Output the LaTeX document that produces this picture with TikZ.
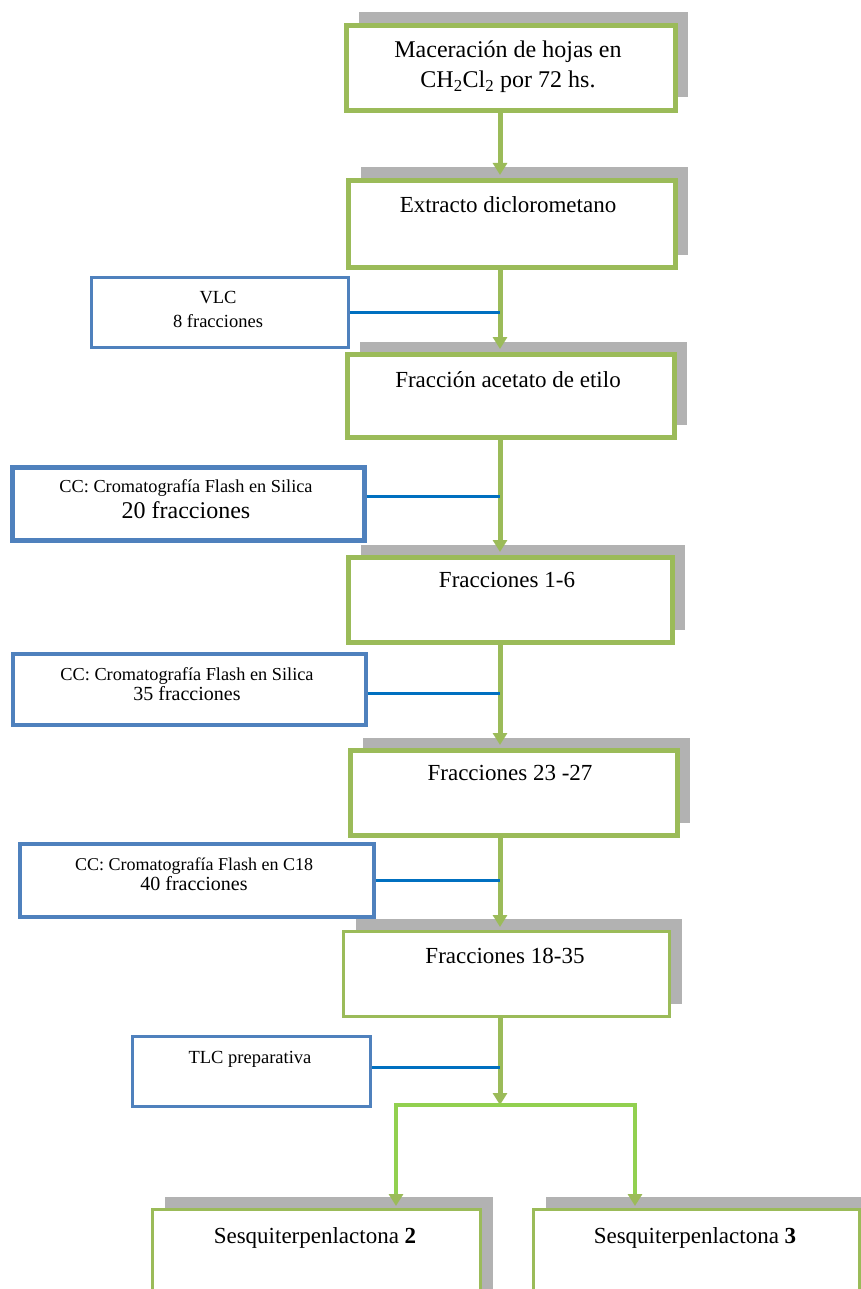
\documentclass[tikz,border=0pt]{standalone}
\usepackage{fontspec}
\setmainfont{Liberation Serif}
\usetikzlibrary{arrows.meta,shadows}

\definecolor{boxgreen}{HTML}{9BBB59}
\definecolor{brgreen}{HTML}{92D050}
\definecolor{boxblue}{HTML}{4F81BD}
\definecolor{linkblue}{HTML}{0070C0}
\definecolor{shade}{gray}{0.70}

\tikzset{
  stage/.style={draw=boxgreen, line width=5pt, fill=white, inner sep=0pt, anchor=north west,
    drop shadow={shadow xshift=12pt, shadow yshift=13pt, fill=shade, opacity=1}},
  method/.style={draw=boxblue, line width=3.5pt, fill=white, inner sep=0pt, anchor=north west},
  txt/.style={anchor=base, inner sep=0pt, font=\fontsize{23}{27}\selectfont},
  stxt/.style={anchor=base, inner sep=0pt, font=\fontsize{18.5}{22}\selectfont},
  flow/.style={draw=boxgreen, line width=5pt, shorten >=3pt, -{Triangle[width=14pt,length=12pt]}},
  link/.style={draw=linkblue, line width=3pt},
  branch/.style={draw=brgreen, line width=3.5pt, line join=miter,
    {Triangle[width=14pt,length=12pt,color=boxgreen]}-{Triangle[width=14pt,length=12pt,color=boxgreen]}},
}

\begin{document}
\begin{tikzpicture}[x=1pt, y=-1pt]
\fill[white] (0,0) rectangle (861,1289);
\clip (0,0) rectangle (861,1289);

% main stages
\node[stage, minimum width=329pt, minimum height=85pt] (b1) at (344,23) {};
\node[stage, minimum width=327pt, minimum height=87pt] (b2) at (346,178) {};
\node[stage, minimum width=327pt, minimum height=83pt] (b3) at (345,352) {};
\node[stage, minimum width=324pt, minimum height=85pt] (b4) at (346,555) {};
\node[stage, minimum width=327pt, minimum height=85pt] (b5) at (348,748) {};
\node[stage, line width=3pt, minimum width=326pt, minimum height=85pt] (b6) at (342,930) {};
\node[stage, line width=3pt, minimum width=328pt, minimum height=100pt] (s2) at (151,1208) {};
\node[stage, line width=3pt, minimum width=326pt, minimum height=100pt] (s3) at (532,1208) {};

% separation methods
\node[method, line width=3pt, minimum width=257pt, minimum height=70pt] (vlc) at (90,276) {};
\node[method, line width=4.5pt, minimum width=352pt, minimum height=73pt] (cc1) at (10,465) {};
\node[method, line width=4pt, minimum width=353pt, minimum height=71pt] (cc2) at (11,652) {};
\node[method, line width=4pt, minimum width=354pt, minimum height=73pt] (cc3) at (18,842) {};
\node[method, line width=3pt, minimum width=238pt, minimum height=70pt] (tlc) at (131,1035) {};

% stage texts
\node[txt, font=\fontsize{24}{28}\selectfont] (t1a) at (508,58) {Maceración de hojas en};
\node[txt, font=\fontsize{24}{28}\selectfont] (t1b) at (508,88) {CH\textsubscript{2}Cl\textsubscript{2} por 72 hs.};
\node[txt] (t2) at (508,213) {Extracto diclorometano};
\node[txt] (t3) at (508,387) {Fracción acetato de etilo};
\node[txt] (t4) at (507,587) {Fracciones 1-6};
\node[txt] (t5) at (510,780) {Fracciones 23 -27};
\node[txt] (t6) at (505,963) {Fracciones 18-35};
\node[txt] (t7) at (315,1243) {Sesquiterpenlactona \textbf{2}};
\node[txt] (t8) at (695,1243) {Sesquiterpenlactona \textbf{3}};

% method texts
\node[stxt] (m1a) at (218,303) {VLC};
\node[stxt] (m1b) at (218,327) {8 fracciones};
\node[stxt, font=\fontsize{18.3}{22}\selectfont] (m2a) at (186,492) {CC: Cromatografía Flash en Silica};
\node[stxt, font=\fontsize{24}{28}\selectfont] (m2b) at (186,518) {20 fracciones};
\node[stxt, font=\fontsize{18.3}{22}\selectfont] (m3a) at (187,680) {CC: Cromatografía Flash en Silica};
\node[stxt, font=\fontsize{20}{24}\selectfont] (m3b) at (187,700) {35 fracciones};
\node[stxt, font=\fontsize{18}{22}\selectfont] (m4a) at (194,870) {CC: Cromatografía Flash en C18};
\node[stxt, font=\fontsize{20}{24}\selectfont] (m4b) at (194,890) {40 fracciones};
\node[stxt] (m5) at (250,1063) {TLC preparativa};

% main flow axis and branch points
\coordinate (ax) at (500,0);
\coordinate (brL) at (396,1105);
\coordinate (brR) at (635,1105);

\draw[flow] (b1.south -| ax) -- (b2.north -| ax);
\draw[flow] (b2.south -| ax) -- (b3.north -| ax);
\draw[flow] (b3.south -| ax) -- (b4.north -| ax);
\draw[flow] (b4.south -| ax) -- (b5.north -| ax);
\draw[flow] (b5.south -| ax) -- (b6.north -| ax);
\draw[flow, shorten >=0pt] (b6.south -| ax) -- (ax |- brL);

% methods joined to the flow
\draw[link] (vlc.east) -- (vlc.east -| ax);
\draw[link] ([yshift=7pt]cc1.east) -- ([yshift=7pt]cc1.east -| ax);
\draw[link] ([yshift=-4pt]cc2.east) -- ([yshift=-4pt]cc2.east -| ax);
\draw[link] (cc3.east) -- (cc3.east -| ax);
\draw[link] ([yshift=4pt]tlc.east) -- ([yshift=4pt]tlc.east -| ax);

% split into the two products
\draw[branch, shorten <=2pt, shorten >=2pt] (brL |- s2.north) -- (brL) -- (brR) -- (brR |- s3.north);
\end{tikzpicture}
\end{document}
